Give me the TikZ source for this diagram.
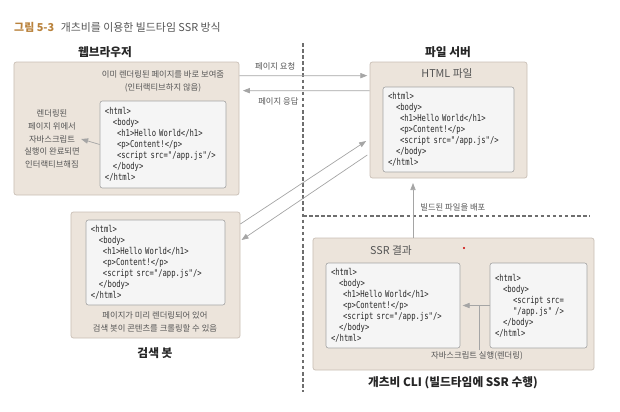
\documentclass[tikz,border=0pt]{standalone}
\usepackage{fontspec}
\setmainfont{Noto Sans CJK KR}
\newfontfamily\codefont[FakeStretch=0.77]{DejaVu Sans Mono}
\usetikzlibrary{arrows.meta}

\definecolor{boxfill}{RGB}{236,228,219}
\definecolor{boxline}{RGB}{200,190,180}
\definecolor{codefill}{RGB}{245,245,245}
\definecolor{codeline}{RGB}{165,165,165}
\definecolor{codetext}{RGB}{40,40,40}
\definecolor{arrgrey}{RGB}{165,165,165}
\definecolor{dashgrey}{RGB}{110,110,110}
\definecolor{labelgrey}{RGB}{85,85,85}
\definecolor{titlebrown}{RGB}{185,130,60}

\newcommand\pagecode{<html>\\
\hspace*{0.24cm}<body>\\
\hspace*{0.36cm}<h1>Hello World</h1>\\
\hspace*{0.36cm}<p>Content!</p>\\
\hspace*{0.36cm}<script src="/app.js"/>\\
\hspace*{0.24cm}</body>\\
</html>}

\tikzset{
  outer/.style={draw=boxline, fill=boxfill, rounded corners=2pt, line width=0.6pt, inner sep=0pt},
  codebox/.style={draw=codeline, fill=codefill, rounded corners=2pt, line width=0.5pt,
    align=left, inner xsep=0.15cm, text=codetext, minimum height=2.55cm,
    font=\codefont\fontsize{8}{9.4}\selectfont},
  heading/.style={font=\bfseries\fontsize{10}{12}\selectfont, text=black!85},
  note/.style={font=\fontsize{7.1}{10.9}\selectfont, text=labelgrey, align=center, inner sep=1pt},
  boxtitle/.style={font=\fontsize{9.2}{11}\selectfont, text=labelgrey},
  arr/.style={draw=arrgrey, line width=0.6pt, -{Triangle[length=6pt,width=4.5pt]}},
  divider/.style={draw=dashgrey, line width=0.9pt, dash pattern=on 3pt off 2.2pt}
}

\begin{document}
\begin{tikzpicture}[x=0.03cm, y=-0.03cm]
\useasboundingbox (0,0) rectangle (620,411);

% caption
\node[anchor=west, inner sep=0pt, font=\fontsize{9.3}{11}\selectfont] (caption) at (14,27)
  {{\color{titlebrown}\bfseries 그림 5-3}\hspace{0.2cm}{\color{labelgrey}개츠비를 이용한 빌드타임 SSR 방식}};

% dividers
\draw[divider] (303,43) -- (303,392);
\draw[divider] (303,216) -- (590,216);

% web browser
\node[heading] (browsertitle) at (105,52) {웹브라우저};
\node[outer, minimum width=6.75cm, minimum height=3.99cm] (browser) at (126.5,128.5) {};
\node[note] (browsertop) at (163,81) {이미 렌더링된 페이지를 바로 보여줌\\(인터랙티브하지 않음)};
\node[codebox, text width=3.48cm, minimum height=2.61cm] (browsercode) at (163,144.5) {\pagecode};
\node[note] (browsernote) at (52,139) {렌더링된\\페이지 위에서\\자바스크립트\\실행이 완료되면\\인터랙티브해짐};
\draw[arr] (browsercode.west) -- (browsernote.east);

% file server
\node[heading] (servertitle) at (448,52) {파일 서버};
\node[outer, minimum width=4.71cm, minimum height=3.48cm] (server) at (448.5,120) {};
\node[boxtitle] (servertop) at (447,73) {HTML 파일};
\node[codebox, text width=3.63cm] (servercode) at (448.5,129.5) {\pagecode};

% request and response
\draw[arr] ([yshift=-0.42cm]browser.north east) -- node[pos=0.28, above=0.12cm, note] (reqlabel) {페이지 요청}
  ([yshift=-0.42cm,xshift=-2pt]server.north west);
\draw[arr] ([yshift=-0.87cm]server.north west) -- node[pos=0.72, below=0.17cm, note] (reslabel) {페이지 응답}
  ([yshift=-0.87cm,xshift=3pt]browser.north east);

% search bot
\node[outer, minimum width=5.07cm, minimum height=3.78cm] (bot) at (155.5,275) {};
\node[codebox, text width=3.87cm] (botcode) at (155.5,262.5) {\pagecode};
\node[note] (botnote) at (155,322) {페이지가 미리 렌더링되어 있어\\검색 봇이 콘텐츠를 크롤링할 수 있음};
\node[heading] (bottitle) at (155,353) {검색 봇};

\draw[arr] ([yshift=1.53cm]bot.east) -- ([yshift=-0.63cm,xshift=-3pt]server.west);
\draw[arr] ([yshift=-1.05cm,xshift=-2pt]server.west) -- ([yshift=1.05cm,xshift=1pt]bot.east);

% gatsby cli
\node[outer, minimum width=8.43cm, minimum height=3.96cm] (cli) at (453.5,304) {};
\node[boxtitle] (clitop) at (391,250) {SSR 결과};
\fill[red!80!black] (464,248) circle (0.9pt);
\node[codebox, text width=3.72cm] (ssrcode) at (393,305.5) {\pagecode};
\node[codebox, text width=2.61cm] (srccode) at (538.5,305.5) {<html>\\
\hspace*{0.24cm}<body>\\
\hspace*{0.54cm}<script src=\\
\hspace*{0.54cm}"/app.js" />\\
\hspace*{0.24cm}</body>\\
</html>};
\draw[arr] (srccode.west) -- ([xshift=2pt]ssrcode.east);
\node[note] (runlabel) at (477,356) {자바스크립트 실행(렌더링)};
\draw[draw=arrgrey, line width=0.6pt] (runlabel.north -| 479,0) -- (479,305.5);
\node[heading] (clititle) at (453,383) {개츠비 CLI (빌드타임에 SSR 수행)};

% deploy
\coordinate (deploy) at (413,238);
\draw[arr] (deploy) -- ([yshift=-4pt]deploy |- server.south);
\node[note, anchor=west] (deploylabel) at (419,207) {빌드된 파일을 배포};
\end{tikzpicture}
\end{document}
